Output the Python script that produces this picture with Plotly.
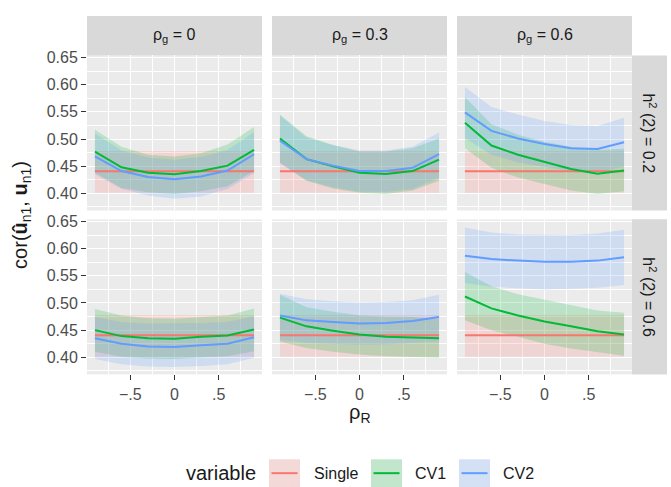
import plotly.graph_objects as go

W, H = 671, 487

rho_R = [-0.9, -0.6, -0.3, 0.0, 0.3, 0.6, 0.9]
rho_g_labels = ["0", "0.3", "0.6"]
h2_labels = ["0.2", "0.6"]
series_names = ["Single", "CV1", "CV2"]

# panel order: (h2=0.2: rho_g 0, 0.3, 0.6), (h2=0.6: rho_g 0, 0.3, 0.6)
single_mean = [[0.4405] * 7 for _ in range(6)]
single_lo = [[0.401] * 7 for _ in range(6)]
single_hi = [[0.478] * 7 for _ in range(6)]

cv1_mean = [
    [0.477, 0.448, 0.438, 0.435, 0.441, 0.451, 0.480],
    [0.501, 0.463, 0.450, 0.438, 0.4355, 0.441, 0.462],
    [0.530, 0.488, 0.471, 0.458, 0.445, 0.436, 0.442],
    [0.450, 0.439, 0.435, 0.434, 0.438, 0.440, 0.451],
    [0.473, 0.457, 0.449, 0.442, 0.438, 0.436, 0.435],
    [0.512, 0.490, 0.477, 0.466, 0.457, 0.448, 0.442],
]
cv1_hi = [
    [0.517, 0.486, 0.471, 0.468, 0.474, 0.490, 0.522],
    [0.545, 0.505, 0.489, 0.477, 0.477, 0.483, 0.501],
    [0.577, 0.527, 0.508, 0.495, 0.486, 0.480, 0.482],
    [0.489, 0.477, 0.472, 0.471, 0.474, 0.477, 0.490],
    [0.515, 0.492, 0.484, 0.477, 0.475, 0.474, 0.471],
    [0.557, 0.531, 0.516, 0.506, 0.495, 0.486, 0.482],
]
cv1_lo = [
    [0.438, 0.410, 0.402, 0.399, 0.404, 0.413, 0.441],
    [0.457, 0.423, 0.409, 0.401, 0.399, 0.405, 0.423],
    [0.483, 0.447, 0.429, 0.417, 0.405, 0.399, 0.404],
    [0.410, 0.401, 0.398, 0.397, 0.400, 0.402, 0.411],
    [0.429, 0.417, 0.410, 0.405, 0.402, 0.400, 0.399],
    [0.468, 0.450, 0.438, 0.425, 0.416, 0.409, 0.403],
]
cv2_mean = [
    [0.468, 0.441, 0.430, 0.426, 0.431, 0.442, 0.472],
    [0.497, 0.463, 0.451, 0.441, 0.441, 0.447, 0.472],
    [0.549, 0.515, 0.501, 0.491, 0.483, 0.4815, 0.494],
    [0.435, 0.425, 0.420, 0.419, 0.422, 0.425, 0.437],
    [0.477, 0.468, 0.465, 0.462, 0.463, 0.467, 0.474],
    [0.587, 0.581, 0.578, 0.576, 0.576, 0.578, 0.584],
]
cv2_hi = [
    [0.510, 0.479, 0.466, 0.462, 0.467, 0.480, 0.513],
    [0.543, 0.503, 0.489, 0.479, 0.479, 0.486, 0.512],
    [0.596, 0.559, 0.545, 0.533, 0.526, 0.524, 0.539],
    [0.474, 0.465, 0.462, 0.462, 0.463, 0.465, 0.476],
    [0.517, 0.507, 0.503, 0.501, 0.502, 0.505, 0.515],
    [0.639, 0.630, 0.626, 0.625, 0.625, 0.628, 0.635],
]
cv2_lo = [
    [0.435, 0.408, 0.396, 0.390, 0.394, 0.408, 0.437],
    [0.455, 0.424, 0.411, 0.403, 0.403, 0.408, 0.429],
    [0.502, 0.471, 0.457, 0.449, 0.441, 0.439, 0.449],
    [0.397, 0.387, 0.383, 0.382, 0.384, 0.387, 0.399],
    [0.432, 0.427, 0.425, 0.423, 0.424, 0.427, 0.429],
    [0.537, 0.530, 0.527, 0.525, 0.526, 0.528, 0.533],
]

x_ticks = [-0.5, 0.0, 0.5]
x_ticktext = ["\u2212.5", "0", ".5"]
y_ticks = [0.40, 0.45, 0.50, 0.55, 0.60, 0.65]
y_ticktext = ["0.40", "0.45", "0.50", "0.55", "0.60", "0.65"]

colors = ["#F8766D", "#00BA38", "#619CFF"]
fills = ["rgba(248,118,109,0.2)", "rgba(0,186,56,0.2)", "rgba(97,156,255,0.2)"]

means = [single_mean, cv1_mean, cv2_mean]
los = [single_lo, cv1_lo, cv2_lo]
his = [single_hi, cv1_hi, cv2_hi]

FONT = "Liberation Sans, Arial, sans-serif"
SMALL = 16
BIG = 20

# layout geometry in pixels
col_x = [(87, 262), (272, 447), (457, 632)]
row_y = [(50, 207), (216, 373)]


def px(x):
    return x / W


def py(y):
    return 1 - y / H


fig = go.Figure()

for p in range(6):
    r, c = divmod(p, 3)
    ax = "" if p == 0 else str(p + 1)
    xa, ya = "x" + ax, "y" + ax
    for s in range(3):
        fig.add_trace(go.Scatter(x=rho_R, y=los[s][p], xaxis=xa, yaxis=ya, mode="lines",
                                 line=dict(width=0, color=colors[s]), showlegend=False,
                                 hoverinfo="skip"))
        fig.add_trace(go.Scatter(x=rho_R, y=his[s][p], xaxis=xa, yaxis=ya, mode="lines",
                                 line=dict(width=0, color=colors[s]), fill="tonexty",
                                 fillcolor=fills[s], showlegend=False, hoverinfo="skip"))
    for s in range(3):
        fig.add_trace(go.Scatter(x=rho_R, y=means[s][p], xaxis=xa, yaxis=ya, mode="lines",
                                 line=dict(width=2, color=colors[s]), name=series_names[s],
                                 showlegend=False))

layout = dict(
    width=W, height=H,
    margin=dict(l=0, r=0, t=0, b=0),
    paper_bgcolor="white",
    plot_bgcolor="#EBEBEB",
    font=dict(family=FONT, color="#1A1A1A", size=SMALL),
    showlegend=False,
)

for p in range(6):
    r, c = divmod(p, 3)
    ax = "" if p == 0 else str(p + 1)
    x0, x1 = col_x[c]
    y0, y1 = row_y[r]
    layout["xaxis" + ax] = dict(
        domain=[px(x0), px(x1)], anchor="y" + ax, range=[-0.99, 0.99],
        tickmode="array", tickvals=x_ticks, ticktext=x_ticktext,
        showticklabels=(r == 1), ticks="outside" if r == 1 else "",
        ticklen=5, tickcolor="#333333", tickwidth=1.2,
        tickfont=dict(size=SMALL, color="#4D4D4D", family=FONT),
        showgrid=True, gridcolor="white", gridwidth=1.3, zeroline=False, showline=False,
        minor=dict(tickmode="linear", tick0=0.25, dtick=0.5, showgrid=True,
                   gridcolor="white", gridwidth=0.6, ticks=""),
    )
    layout["yaxis" + ax] = dict(
        domain=[py(y1), py(y0)], anchor="x" + ax, range=[0.3685, 0.654],
        tickmode="array", tickvals=y_ticks, ticktext=y_ticktext,
        showticklabels=(c == 0), ticks="outside" if c == 0 else "",
        ticklen=5, tickcolor="#333333", tickwidth=1.2,
        tickfont=dict(size=SMALL, color="#4D4D4D", family=FONT),
        showgrid=True, gridcolor="white", gridwidth=1.3, zeroline=False, showline=False,
        minor=dict(tickmode="linear", tick0=0.375, dtick=0.05, showgrid=True,
                   gridcolor="white", gridwidth=0.6, ticks=""),
    )

shapes = []
annotations = []

# top strips
for c in range(3):
    x0, x1 = col_x[c]
    shapes.append(dict(type="rect", xref="paper", yref="paper", x0=px(x0), x1=px(x1),
                       y0=py(50), y1=py(10), fillcolor="#D9D9D9", line=dict(width=0),
                       layer="below"))
    annotations.append(dict(xref="paper", yref="paper", x=px((x0 + x1) / 2), y=py(30),
                            text="\u03c1<sub>g</sub> = " + rho_g_labels[c], showarrow=False,
                            font=dict(size=SMALL, color="#1A1A1A", family=FONT),
                            xanchor="center", yanchor="middle"))
# right strips
for r in range(2):
    y0, y1 = row_y[r]
    shapes.append(dict(type="rect", xref="paper", yref="paper", x0=px(632), x1=px(667),
                       y0=py(y1), y1=py(y0), fillcolor="#D9D9D9", line=dict(width=0),
                       layer="below"))
    annotations.append(dict(xref="paper", yref="paper", x=px(649.5), y=py((y0 + y1) / 2),
                            text="h<sup>2</sup> (2) = " + h2_labels[r], showarrow=False,
                            textangle=90, font=dict(size=SMALL, color="#1A1A1A", family=FONT),
                            xanchor="center", yanchor="middle"))

# axis titles
annotations.append(dict(xref="paper", yref="paper", x=px(359.5), y=py(413),
                        text="\u03c1<sub>R</sub>", showarrow=False,
                        font=dict(size=BIG, color="#1A1A1A", family=FONT),
                        xanchor="center", yanchor="middle"))
annotations.append(dict(xref="paper", yref="paper", x=px(22), y=py(211.5),
                        text="cor(<b>\u00fb</b><sub>n1</sub>, <b>u</b><sub>n1</sub>)",
                        showarrow=False, textangle=-90,
                        font=dict(size=BIG, color="#1A1A1A", family=FONT),
                        xanchor="center", yanchor="middle"))

# legend (manual)
leg_y = 473
annotations.append(dict(xref="paper", yref="paper", x=px(184), y=py(leg_y),
                        text="variable", showarrow=False,
                        font=dict(size=BIG, color="#1A1A1A", family=FONT),
                        xanchor="left", yanchor="middle"))
key_x = [269, 371, 459]
lab_x = [312, 413, 501]
for s in range(3):
    kx = key_x[s]
    shapes.append(dict(type="rect", xref="paper", yref="paper", x0=px(kx), x1=px(kx + 31),
                       y0=py(leg_y + 14), y1=py(leg_y - 14), fillcolor="#F2F2F2",
                       line=dict(width=0)))
    shapes.append(dict(type="rect", xref="paper", yref="paper", x0=px(kx), x1=px(kx + 31),
                       y0=py(leg_y + 14), y1=py(leg_y - 14), fillcolor=fills[s],
                       line=dict(width=0)))
    shapes.append(dict(type="line", xref="paper", yref="paper", x0=px(kx + 2.5),
                       x1=px(kx + 28.5), y0=py(leg_y), y1=py(leg_y),
                       line=dict(color=colors[s], width=2)))
    annotations.append(dict(xref="paper", yref="paper", x=px(lab_x[s]), y=py(leg_y),
                            text=series_names[s], showarrow=False,
                            font=dict(size=SMALL, color="#1A1A1A", family=FONT),
                            xanchor="left", yanchor="middle"))

layout["shapes"] = shapes
layout["annotations"] = annotations
fig.update_layout(**layout)

fig.write_html(
    "out.html",
    config={"displayModeBar": False},
    post_script="document.body.style.margin='0px';document.body.style.overflow='hidden';",
)
